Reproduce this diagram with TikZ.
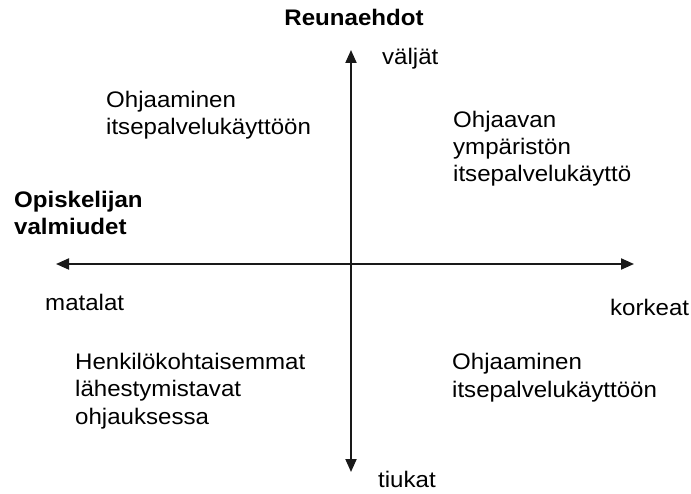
\documentclass[tikz,border=0pt]{standalone}
\usepackage{fontspec}
\setmainfont{Liberation Sans}[FakeStretch=1.07]
\usetikzlibrary{arrows.meta}
\begin{document}
\begin{tikzpicture}[x=1pt,y=-1pt,
  lbl/.style={anchor=base west, inner sep=0pt, align=left,
    font=\fontsize{22.5}{27.3}\selectfont},
  heading/.style={lbl, font=\fontsize{22.5}{27.3}\selectfont\bfseries},
  axisline/.style={line width=2pt, color=black!90,
    {Triangle[length=13pt,width=11pt]}-{Triangle[length=13pt,width=11pt]}}]
\useasboundingbox (0,0) rectangle (691,494);

% axis end points
\coordinate (ytop) at (351,50);
\coordinate (ybot) at (351,472);
\coordinate (xleft) at (56,264);
\coordinate (xright) at (634,264);

\draw[axisline] (ybot) -- (ytop);
\draw[axisline] (xleft) -- (xright);

% axis titles (multi-line nodes are placed by the baseline of their last line)
\node[heading, anchor=base] (reuna) at (354,26) {Reunaehdot};
\node[heading] (opisk) at (14,235) {Opiskelijan\\valmiudet};

% axis end labels
\node[lbl] (valjat) at (382,65) {väljät};
\node[lbl] (tiukat) at (378,487) {tiukat};
\node[lbl] (matalat) at (45,311) {matalat};
\node[lbl] (korkeat) at (610,316) {korkeat};

% quadrant texts
\node[lbl] (q2) at (106,135) {Ohjaaminen\\itsepalvelukäyttöön};
\node[lbl] (q1) at (453,182) {Ohjaavan\\ympäristön\\itsepalvelukäyttö};
\node[lbl] (q3) at (75,424) {Henkilökohtaisemmat\\lähestymistavat\\ohjauksessa};
\node[lbl] (q4) at (452,397) {Ohjaaminen\\itsepalvelukäyttöön};
\end{tikzpicture}
\end{document}
